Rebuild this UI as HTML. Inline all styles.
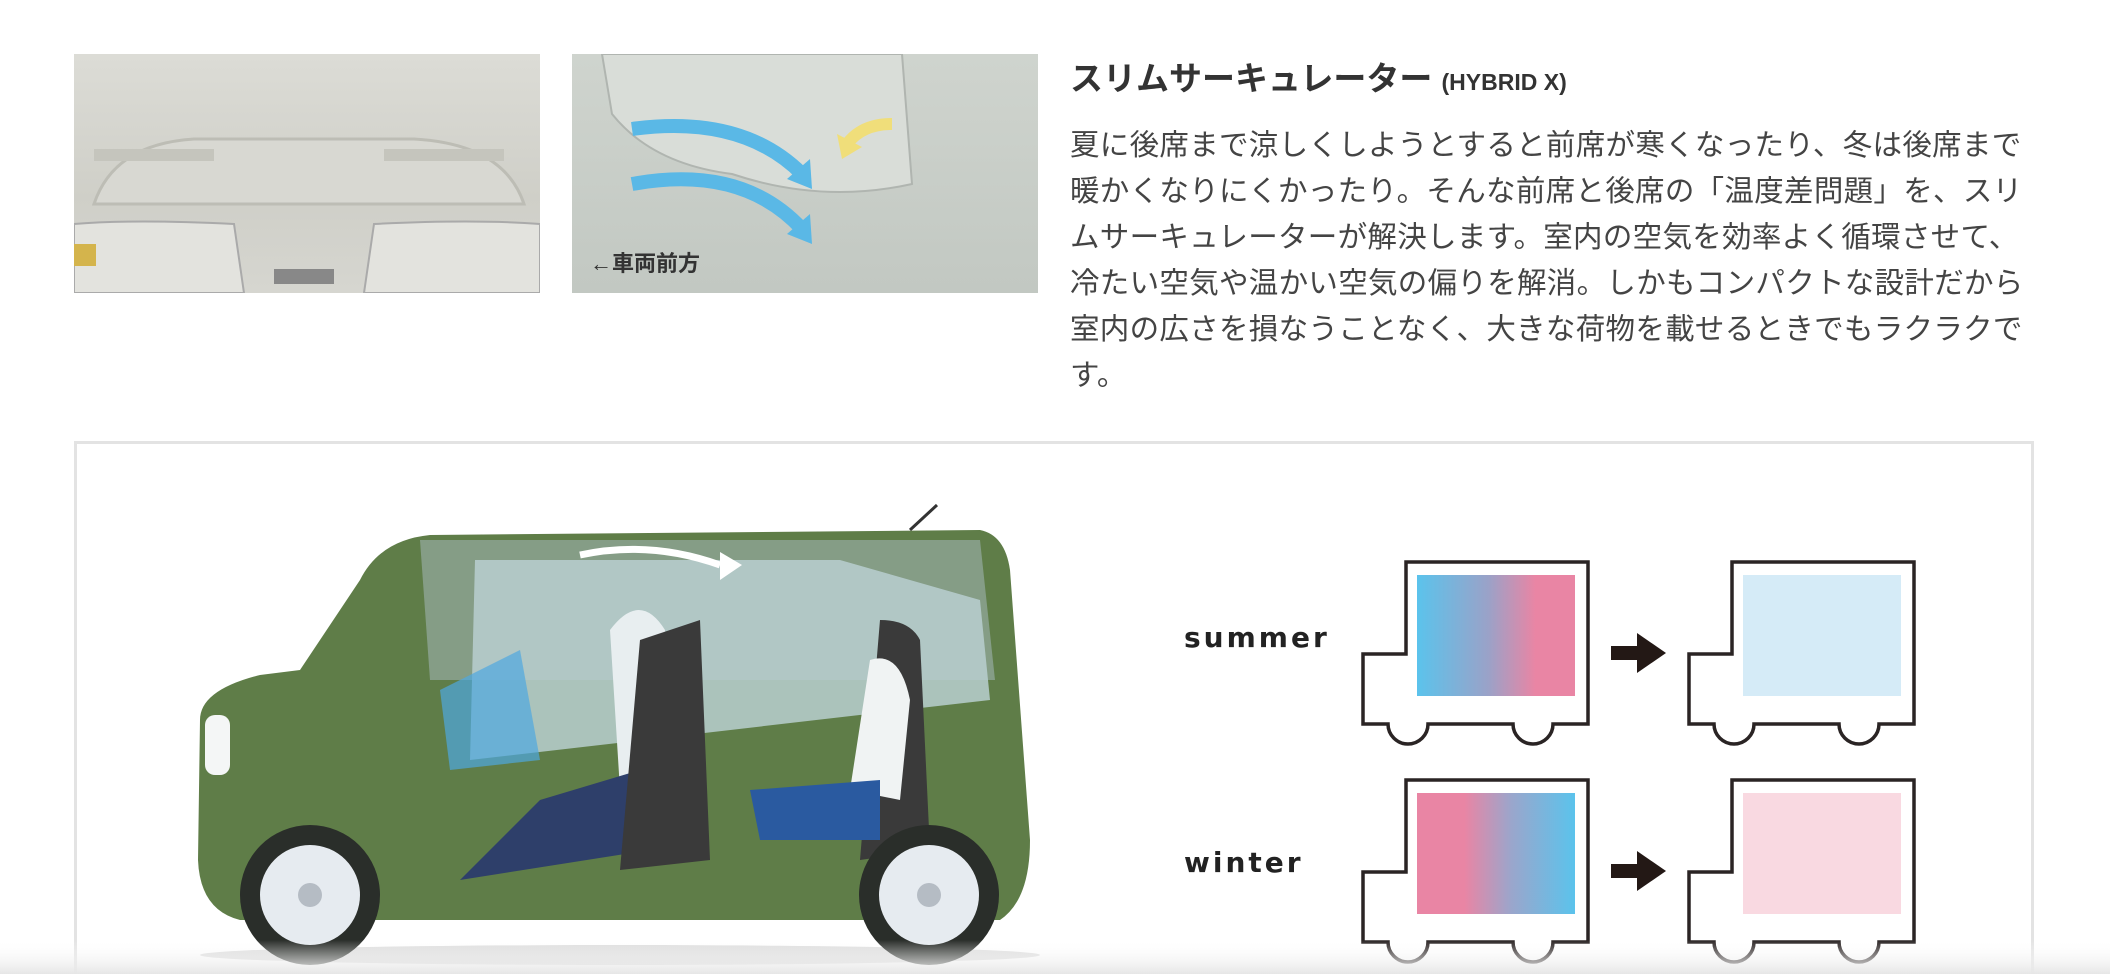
<!DOCTYPE html>
<html><head><meta charset="utf-8"><style>
html,body{margin:0;width:2110px;height:974px;overflow:hidden}
body{background:#fff;position:relative;font-family:"Liberation Sans","Noto Sans CJK JP",sans-serif;color:#333}
.abs{position:absolute}
h2{position:absolute;left:1070px;top:52px;margin:0;font-size:33px;font-weight:bold;color:#333;white-space:nowrap}
h2 small{font-size:23px;font-weight:bold}
.txt{position:absolute;left:1070px;top:123px;width:970px;font-size:29.5px;line-height:46px;color:#444;letter-spacing:0.3px}
.box{position:absolute;left:74px;top:441px;width:1954px;height:540px;border:3px solid #e3e3e3;background:#fff}
</style></head><body>
<div class="abs" style="left:74px;top:54px;width:466px;height:239px;background:linear-gradient(#dcdcd6,#cfcfc8 60%,#d6d6d0)">
<svg width="466" height="239"><path d="M20 150 Q40 90 120 85 L340 85 Q430 90 450 150 Z" fill="#d8d8d2" stroke="#bdbdb5" stroke-width="3"/>
<rect x="20" y="95" width="120" height="12" fill="#c5c5bd"/><rect x="310" y="95" width="120" height="12" fill="#c5c5bd"/>
<path d="M0 170 Q60 165 160 170 L170 239 L0 239Z" fill="#e3e3de" stroke="#aaa" stroke-width="2"/>
<path d="M300 170 Q400 165 466 170 L466 239 L290 239Z" fill="#e3e3de" stroke="#aaa" stroke-width="2"/>
<rect x="200" y="215" width="60" height="15" fill="#888"/><rect x="0" y="190" width="22" height="22" fill="#d4b44c"/></svg></div>
<div class="abs" style="left:572px;top:54px;width:466px;height:239px;background:linear-gradient(#cfd4ce,#c2c8c2)">
<svg width="466" height="239"><path d="M30 0 L330 0 L340 130 Q250 150 160 120 Q80 110 40 60Z" fill="#d9ddd8" stroke="#b0b5b0" stroke-width="2"/>
<path d="M60 75 Q170 60 230 120" stroke="#5ab8e6" stroke-width="14" fill="none"/><path d="M215 125 l25 10 l-2-30z" fill="#5ab8e6"/>
<path d="M60 130 Q170 110 230 175" stroke="#5ab8e6" stroke-width="14" fill="none"/><path d="M215 180 l25 10 l-2-30z" fill="#5ab8e6"/>
<path d="M320 70 Q290 70 275 90" stroke="#f0de7a" stroke-width="12" fill="none"/><path d="M265 80 l5 25 l20-12z" fill="#f0de7a"/></svg>
<div class="abs" style="left:18px;top:192px;font-size:22px;font-weight:bold;color:#333">←車両前方</div></div>
<h2>スリムサーキュレーター <small>(HYBRID X)</small></h2>
<div class="txt">夏に後席まで涼しくしようとすると前席が寒くなったり、冬は後席まで暖かくなりにくかったり。そんな前席と後席の「温度差問題」を、スリムサーキュレーターが解決します。室内の空気を効率よく循環させて、冷たい空気や温かい空気の偏りを解消。しかもコンパクトな設計だから室内の広さを損なうことなく、大きな荷物を載せるときでもラクラクです。</div>
<div class="box"></div>
<svg class="abs" style="left:0;top:0" width="2110" height="974">
<defs>
<linearGradient id="s" x1="0" x2="1"><stop offset="0" stop-color="#5bc3ec"/><stop offset=".45" stop-color="#9aa2c8"/><stop offset=".75" stop-color="#e985a4"/><stop offset="1" stop-color="#e985a4"/></linearGradient>
<linearGradient id="w" x1="0" x2="1"><stop offset="0" stop-color="#e985a4"/><stop offset=".3" stop-color="#e985a4"/><stop offset=".6" stop-color="#9aa6cc"/><stop offset="1" stop-color="#5bc3ec"/></linearGradient>
<linearGradient id="fl" x1="0" x2="0" y1="0" y2="1"><stop offset="0" stop-color="#fff" stop-opacity="0"/><stop offset="1" stop-color="#e6e6e6"/></linearGradient>
<g id="tr"><path d="M0 92 L43 92 L43 0 L225 0 L225 162 L190 162 A19 19 0 0 1 150 162 L65 162 A19 19 0 0 1 25 162 L0 162Z" fill="#fff" stroke="#2a2424" stroke-width="3.5"/></g>
<g id="ar"><rect x="0" y="-7" width="30" height="14" fill="#231815"/><path d="M26 -20 L55 0 L26 20Z" fill="#231815"/></g>
</defs>
<text x="1184" y="647" font-family="DejaVu Sans" font-weight="bold" font-size="28" letter-spacing="3" fill="#222">summer</text>
<text x="1184" y="872" font-family="DejaVu Sans" font-weight="bold" font-size="28" letter-spacing="3" fill="#222">winter</text>
<use href="#tr" x="1363" y="562"/><rect x="1417" y="575" width="158" height="121" fill="url(#s)"/>
<use href="#ar" x="1611" y="653"/>
<use href="#tr" x="1689" y="562"/><rect x="1743" y="575" width="158" height="121" fill="#d5ebf7"/>
<use href="#tr" x="1363" y="780"/><rect x="1417" y="793" width="158" height="121" fill="url(#w)"/>
<use href="#ar" x="1611" y="871"/>
<use href="#tr" x="1689" y="780"/><rect x="1743" y="793" width="158" height="121" fill="#f9d9e1"/>
<!-- car -->
<ellipse cx="620" cy="955" rx="420" ry="10" fill="#ddd"/>
<line x1="910" y1="530" x2="937" y2="505" stroke="#333" stroke-width="3"/>
<path d="M200 720 Q200 690 260 675 L300 670 L360 580 Q380 540 430 535 L980 530 Q1005 535 1010 570 L1030 840 Q1030 900 1000 920 L240 920 Q200 910 198 860Z" fill="#5f7d48"/>
<path d="M420 540 L980 540 L995 680 L430 680Z" fill="#8fa596" opacity=".8"/>
<path d="M475 560 L840 560 L980 600 L990 700 L470 760Z" fill="#b9cfd0" opacity=".85"/>
<path d="M440 690 L520 650 L540 760 L450 770Z" fill="#4ea8df" opacity=".7"/>
<path d="M580 555 Q650 540 720 565" stroke="#fff" stroke-width="7" fill="none"/><path d="M720 552 L742 565 L720 580Z" fill="#fff"/>
<path d="M610 630 Q640 590 665 630 L680 780 L620 790Z" fill="#e8eef0"/>
<path d="M540 800 L640 770 L650 850 L460 880Z" fill="#2e3f6a"/>
<path d="M640 640 L700 620 L710 860 L620 870Z" fill="#3a3a3a"/>
<path d="M880 620 Q910 620 920 640 L930 850 L860 860Z" fill="#3a3a3a"/>
<path d="M870 660 Q900 650 910 700 L900 800 L850 790Z" fill="#f0f3f3"/>
<path d="M750 790 L880 780 L880 840 L760 840Z" fill="#2a5aa0"/>
<rect x="205" y="715" width="25" height="60" rx="10" fill="#f4f6f6"/>
<circle cx="310" cy="895" r="70" fill="#2a2e2a"/><circle cx="310" cy="895" r="50" fill="#e6ebf0"/><circle cx="310" cy="895" r="12" fill="#b5bcc4"/>
<circle cx="929" cy="895" r="70" fill="#2a2e2a"/><circle cx="929" cy="895" r="50" fill="#e6ebf0"/><circle cx="929" cy="895" r="12" fill="#b5bcc4"/>
<rect x="0" y="940" width="2110" height="34" fill="url(#fl)"/>
</svg>
</body></html>
